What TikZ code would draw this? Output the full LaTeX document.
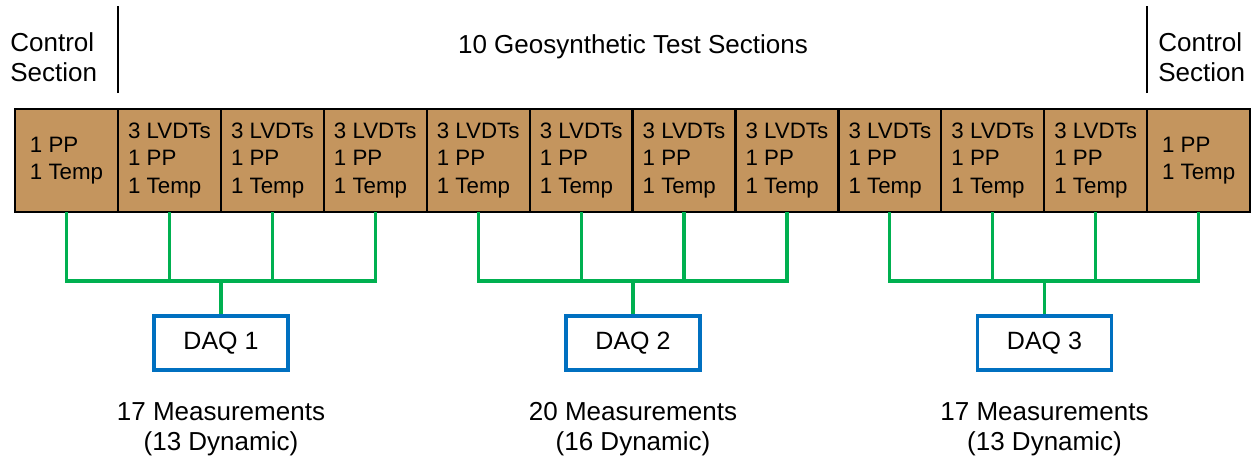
\documentclass[tikz,border=0pt]{standalone}
\usepackage{fontspec}
\setmainfont{Liberation Sans}
\usetikzlibrary{positioning}
\definecolor{soilfill}{RGB}{196,149,94}
\definecolor{wirecol}{RGB}{0,176,80}
\definecolor{daqcol}{RGB}{0,112,192}

\begin{document}
\begin{tikzpicture}[
  x=0.5pt, y=-0.5pt,
  sectlabel/.style={font=\fontsize{13}{15}\selectfont, align=center, inner sep=0pt},
  cell/.style={draw=black, line width=1.1pt, fill=soilfill,
               minimum width=51.46pt, minimum height=51.5pt,
               inner sep=0pt, outer sep=0pt, align=left,
               font=\fontsize{11.15}{13.75}\selectfont},
  daq/.style={draw=daqcol, line width=1.6pt, fill=white,
              minimum width=67pt, minimum height=27pt,
              font=\fontsize{12.5}{15}\selectfont},
  wire/.style={wirecol, line width=1.6pt},
  divider/.style={black, line width=1.1pt}
]
  \useasboundingbox (0,0) rectangle (1255,461);

  % section headings
  \node[sectlabel, anchor=west, align=left] (ctrlL) at (10,57) {Control\\Section};
  \node[sectlabel] (geo) at (633,47) {10 Geosynthetic Test Sections};
  \node[sectlabel, anchor=west, align=left] (ctrlR) at (1158,57) {Control\\Section};

  % test sections
  \node[cell] (c0) at (66.5,160.5) {1 PP\\1 Temp};
  \node[cell, right=0pt of c0] (c1) {3 LVDTs\\1 PP\\1 Temp};
  \node[cell, right=0pt of c1] (c2) {3 LVDTs\\1 PP\\1 Temp};
  \node[cell, right=0pt of c2] (c3) {3 LVDTs\\1 PP\\1 Temp};
  \node[cell, right=0pt of c3] (c4) {3 LVDTs\\1 PP\\1 Temp};
  \node[cell, right=0pt of c4] (c5) {3 LVDTs\\1 PP\\1 Temp};
  \node[cell, right=0pt of c5] (c6) {3 LVDTs\\1 PP\\1 Temp};
  \node[cell, right=0pt of c6] (c7) {3 LVDTs\\1 PP\\1 Temp};
  \node[cell, right=0pt of c7] (c8) {3 LVDTs\\1 PP\\1 Temp};
  \node[cell, right=0pt of c8] (c9) {3 LVDTs\\1 PP\\1 Temp};
  \node[cell, right=0pt of c9] (c10) {3 LVDTs\\1 PP\\1 Temp};
  \node[cell, right=0pt of c10] (c11) {1 PP\\1 Temp};

  % dividers between control and test sections
  \draw[divider] ([yshift=8pt]c0.north east) -- ([yshift=51.5pt]c0.north east);
  \draw[divider] ([yshift=8pt]c10.north east) -- ([yshift=51.5pt]c10.north east);

  % data loggers
  \node[daq] (daq1) at (221,343) {DAQ 1};
  \node[daq] (daq2) at (633,343) {DAQ 2};
  \node[daq] (daq3) at (1044.5,343) {DAQ 3};

  \node[sectlabel] (meas1) at (221,429) {17 Measurements\\(13 Dynamic)};
  \node[sectlabel] (meas2) at (633,429) {20 Measurements\\(16 Dynamic)};
  \node[sectlabel] (meas3) at (1044.5,429) {17 Measurements\\(13 Dynamic)};

  % wiring
  \coordinate (bus1) at (221,281);
  \coordinate (bus2) at (633,281);
  \coordinate (bus3) at (1044.5,281);

  \draw[wire] (c0.south) |- (bus1) -| (c3.south);
  \draw[wire] (c1.south) -- (c1.south |- bus1);
  \draw[wire] (c2.south) -- (c2.south |- bus1);
  \draw[wire] (bus1) -- (daq1);

  \draw[wire] (c4.south) |- (bus2) -| (c7.south);
  \draw[wire] (c5.south) -- (c5.south |- bus2);
  \draw[wire] (c6.south) -- (c6.south |- bus2);
  \draw[wire] (bus2) -- (daq2);

  \draw[wire] (c8.south) |- (bus3) -| (c11.south);
  \draw[wire] (c9.south) -- (c9.south |- bus3);
  \draw[wire] (c10.south) -- (c10.south |- bus3);
  \draw[wire] (bus3) -- (daq3);
\end{tikzpicture}
\end{document}
